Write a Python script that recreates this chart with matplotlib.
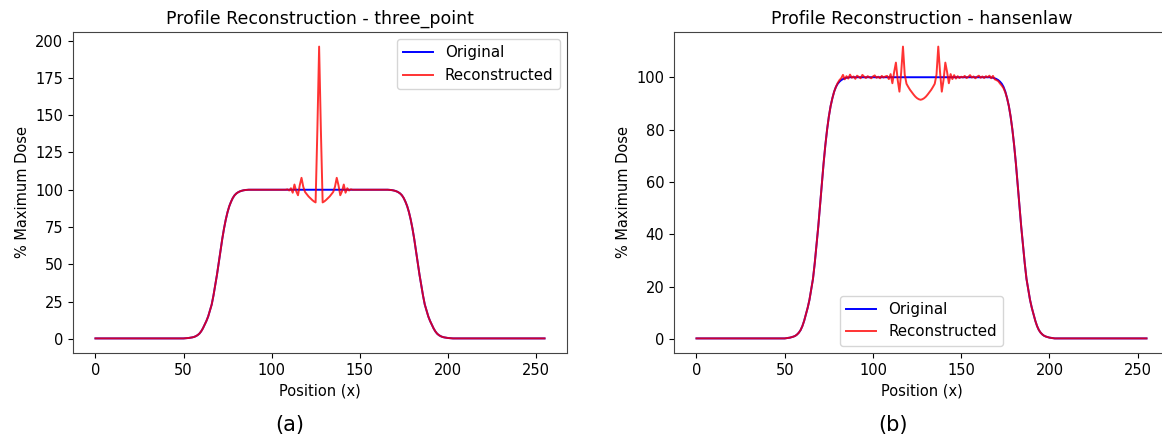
import matplotlib as mpl
mpl.use('Agg')
import matplotlib.pyplot as plt
import numpy as np

# positions along the profile
x = np.arange(256)

# original dose profile (x = 50..86 rise, 167..203 fall)
baseline = 0.3
rise = [0.3, 0.4, 0.5, 0.6, 0.8, 1.0, 1.3, 1.8, 2.5, 3.5, 5, 7, 9.5, 12, 15,
        19, 23, 29, 36, 43, 51, 59, 67, 74, 80, 85, 89, 92, 94.5, 96.3, 97.5,
        98.3, 98.9, 99.3, 99.6, 99.8, 99.9]
fall = [99.9, 99.8, 99.6, 99.3, 98.9, 98.3, 97.5, 96.3, 94.5, 92, 89, 85, 80,
        74, 67, 59, 51, 43, 36, 29, 23, 19, 15, 12, 9.5, 7, 5, 3.5, 2.5, 1.8,
        1.3, 1.0, 0.8, 0.6, 0.5, 0.4, 0.3]
original = [baseline] * 50 + rise + [100.0] * 80 + fall + [baseline] * 52

# three_point reconstruction, x = 108..146 differs from the original
tp_center = [100, 100.3, 99.5, 101, 98, 103.5, 99, 96.3, 103, 108, 102, 98.5,
             97, 95.5, 94.3, 93.2, 92.2, 91.5, 140, 196, 140, 91.5, 92.2,
             93.2, 94.3, 95.5, 97, 98.5, 102, 108, 103, 96.3, 99, 103.5, 98,
             101, 99.5, 100.3, 100]
three_point = original[:108] + tp_center + original[147:]

# hansenlaw reconstruction, x = 80..175 differs from the original
hl_left = [97.8, 98.9, 99.6, 100.9, 99.2, 100.4, 99.5, 101.0, 99.8, 100.3,
           99.4, 100.6, 100.1, 99.6, 100.9, 100.2, 99.7, 100.4, 100.0, 99.6,
           100.3, 100.7, 99.8, 100.2, 99.6, 100.5, 99.9, 100.3]
hl_center = [100.5, 99.3, 101.2, 97.7, 102, 105.6, 99, 94.5, 102, 111.7, 101,
             97.5, 96.3, 95.2, 94.3, 93.4, 92.6, 92, 91.6, 91.4, 91.6, 92,
             92.6, 93.4, 94.3, 95.2, 96.3, 97.5, 101, 111.7, 102, 94.5, 99,
             105.6, 102, 97.7, 101.2, 99.3, 100.8, 99.5]
hl_right = [100.4, 99.7, 100.2, 99.9, 100.5, 99.7, 100.1, 100.8, 99.9, 100.3,
            99.6, 100.2, 100.6, 99.8, 100.3, 99.7, 100.4, 100.0, 100.6, 99.6,
            100.5, 99.2, 98.9, 98.5, 97.6, 96.8, 95.8, 94.2]
hansenlaw = original[:80] + hl_left + hl_center + hl_right + original[176:]

plt.rcParams['font.family'] = 'DejaVu Sans'
plt.rcParams['font.size'] = 10.5

fig = plt.figure(figsize=(11.62, 4.41), dpi=100)
W, H = 1162.0, 441.0
ax1 = fig.add_axes([73 / W, 88 / H, 494 / W, 321 / H])
ax2 = fig.add_axes([674 / W, 88 / H, 495 / W, 321 / H])

panels = [(ax1, three_point, 'three_point', 'upper right', '(a)', 290),
          (ax2, hansenlaw, 'hansenlaw', 'lower center', '(b)', 893)]

for ax, recon, name, loc, tag, tx in panels:
    ax.plot(x, original, color='blue', lw=1.4, label='Original')
    ax.plot(x, recon, color='red', lw=1.4, alpha=0.8, label='Reconstructed')
    ax.set_title('Profile Reconstruction - ' + name, fontsize=12.5)
    ax.set_xlabel('Position (x)')
    ax.set_ylabel('% Maximum Dose')
    ax.legend(loc=loc, fontsize=10.8)
    for s in ax.spines.values():
        s.set_color('#444444')
    fig.text(tx / W, 16 / H, tag, fontsize=15, ha='center', va='center')

ax1.set_yticks([0, 25, 50, 75, 100, 125, 150, 175, 200])
ax2.set_yticks([0, 20, 40, 60, 80, 100])

fig.savefig('out.png', dpi=100)
